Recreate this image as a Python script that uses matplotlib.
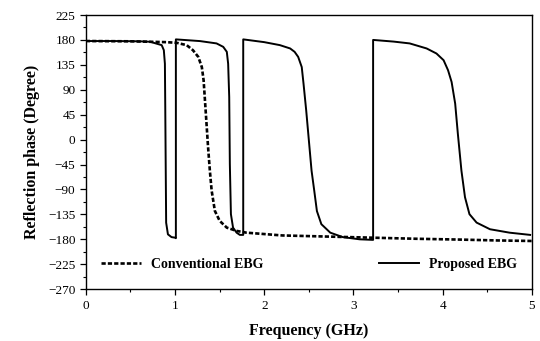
import matplotlib
matplotlib.use("Agg")
import matplotlib.pyplot as plt
from matplotlib.ticker import MultipleLocator

# Conventional EBG (dashed)
conv_f = [0, 0.5, 0.9, 1.017, 1.13, 1.20, 1.26, 1.30, 1.32, 1.345, 1.37, 1.39,
          1.41, 1.446, 1.50, 1.58, 1.69, 1.80, 2.2, 2.7, 3.2, 3.7, 4.2, 4.6, 5.0]
conv_phase = [178, 177.5, 176, 174.8, 170.6, 161.5, 149.4, 131, 107, 47, -13.8, -56,
              -92, -128.6, -146.7, -158.9, -164.8, -168, -173, -175, -177, -179,
              -180.5, -182, -183]

# Proposed EBG (solid), repeated frequencies are the phase wraps
prop_f = [0, 0.3, 0.6, 0.72, 0.85, 0.874, 0.886, 0.89, 0.9, 0.92, 0.96, 1.0, 1.009,
          1.009, 1.28, 1.465, 1.54, 1.58, 1.595, 1.607, 1.614, 1.626, 1.65, 1.69,
          1.726, 1.764,
          1.764, 2.0, 2.175, 2.29, 2.34, 2.38, 2.42, 2.44, 2.47, 2.50, 2.53, 2.56,
          2.59, 2.64, 2.74, 2.88, 3.07, 3.22,
          3.22, 3.45, 3.63, 3.82, 3.93, 4.01, 4.06, 4.10, 4.14, 4.17, 4.21, 4.25,
          4.30, 4.38, 4.53, 4.75, 4.98]
prop_phase = [178, 178, 177.5, 176.7, 170.6, 161.5, 137, 60, -150, -171, -176, -177, -178,
              181, 177.9, 173.7, 167.5, 158.5, 137, 76.9, -44, -134.6, -159, -168,
              -172, -172,
              181, 176, 170.6, 164.6, 158.5, 149.4, 131, 101, 52.7, -1.7, -56, -92,
              -129, -152.7, -168, -176, -180, -181,
              180, 177, 173.7, 164.6, 155.5, 143.4, 125.3, 104, 65, 10.5, -56, -104,
              -134.6, -149.8, -161.8, -168, -172]

plt.rcParams['font.family'] = ['Liberation Serif', 'DejaVu Serif']

fig = plt.figure(figsize=(5.4, 3.41), dpi=100)
ax = fig.add_axes([0.159, 0.152, 0.826, 0.804])

ax.plot(conv_f, conv_phase, color='black', lw=1.9, linestyle=(0, (1.6, 0.8)),
        label='Conventional EBG')
ax.plot(prop_f, prop_phase, color='black', lw=1.4, label='Proposed EBG')

ax.set_xlim(0, 5)
ax.set_ylim(-270, 225)
ax.set_xticks([0, 1, 2, 3, 4, 5])
ax.set_yticks(range(-270, 226, 45))
ax.xaxis.set_minor_locator(MultipleLocator(0.5))
ax.yaxis.set_minor_locator(MultipleLocator(22.5))
ax.tick_params(which='major', direction='out', length=4, width=0.9, labelsize=9.5)
ax.tick_params(which='minor', direction='out', length=2.5, width=0.8)
for s in ax.spines.values():
    s.set_linewidth(1.0)

ax.set_xlabel('Frequency (GHz)', fontsize=11.5, fontweight='bold', labelpad=8)
ax.set_ylabel('Reflection phase (Degree)', fontsize=11.5, fontweight='bold', labelpad=6)

ax.legend(loc='lower center', bbox_to_anchor=(0.5, 0.02), ncol=2, frameon=False,
          columnspacing=8.3, handlelength=2.9, handletextpad=0.7,
          prop={'weight': 'bold', 'size': 10})

fig.savefig('out.png', dpi=100)
